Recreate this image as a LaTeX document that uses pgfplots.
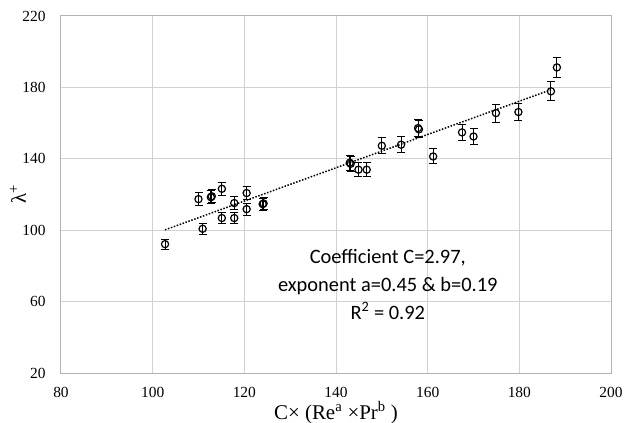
\documentclass[border=0pt]{standalone}
\usepackage{fontspec}
\setmainfont{Liberation Serif}
\newfontfamily\calibri{Carlito}
\usepackage{pgfplots}
\pgfplotsset{compat=1.18}
\usetikzlibrary{calc}
\begin{document}
\begin{tikzpicture}
\begin{axis}[
  scale only axis, width=550bp, height=357bp,
  xmin=80, xmax=200, ymin=20, ymax=220,
  xtick={80,100,...,200}, ytick={20,60,...,220},
  grid=major,
  major grid style={draw=black!18, line width=1bp},
  axis line style={draw=black!30, line width=1bp},
  tick style={draw=none},
  ticklabel style={font=\fontsize{15.5}{18}\selectfont},
  /pgf/number format/assume math mode=true,
  xticklabel style={yshift=-11bp},
  yticklabel style={xshift=-12bp},
  xlabel={C\texttimes{} (Re\textsuperscript{a} \texttimes Pr\textsuperscript{b} )},
  xlabel style={font=\fontsize{21}{23}\selectfont, at={(axis description cs:0.5,0)}, anchor=base, yshift=-46bp},
  ylabel={λ\textsuperscript{+}},
  ylabel style={font=\fontsize{21}{24}\selectfont, at={(axis description cs:0,0.5)}, anchor=center, yshift=43bp},
  clip=false,
]
\coordinate (SW) at (rel axis cs:0,0);
\coordinate (NE) at (rel axis cs:1,1);
\addplot[black, line width=1.5bp, dash pattern=on 1.5bp off 1.6bp] coordinates {(102.7,100.2) (186.9,178.7)};
\addplot[only marks, mark=o, mark size=3.6bp, black, mark options={line width=1.2bp},
  error bars/.cd, y dir=both, y explicit,
  error bar style={line width=1bp, black},
  error mark options={rotate=90, mark size=4bp, line width=1bp, black}]
  table[x=x, y=y, y error=e] {
x y e
102.7 92.2 2.8
110.0 117.4 3.5
110.9 100.8 3.0
112.7 118.5 3.6
112.9 119.0 3.6
115.1 123.2 3.7
115.1 106.8 3.2
117.8 115.2 3.5
117.8 106.8 3.2
120.5 120.8 3.6
120.5 111.8 3.4
124.0 114.6 3.4
124.2 115.0 3.4
143.2 137.2 4.1
143.0 137.8 4.1
144.9 133.9 4.0
146.7 133.9 4.0
150.0 147.3 4.4
154.2 147.9 4.4
157.9 157.2 4.7
158.1 156.5 4.7
161.2 141.3 4.2
167.5 154.8 4.6
170.0 152.5 4.6
174.9 165.6 5.0
179.8 166.2 5.0
186.9 177.8 5.3
188.2 191.2 5.7
};
\node[font=\calibri\fontsize{20.5}{24}\selectfont, anchor=base] at (axis cs:151.3,81.1) {Coefficient C=2.97,};
\node[font=\calibri\fontsize{20.5}{24}\selectfont, anchor=base] at (axis cs:151.3,65.6) {exponent a=0.45 \& b=0.19};
\node[font=\calibri\fontsize{20.5}{24}\selectfont, anchor=base] at (axis cs:151.3,50.1) {R\textsuperscript{2} = 0.92};
\end{axis}
\pgfresetboundingbox
\path[use as bounding box] ($(SW)+(-61bp,-50bp)$) rectangle ($(NE)+(16bp,16bp)$);
\end{tikzpicture}
\end{document}
